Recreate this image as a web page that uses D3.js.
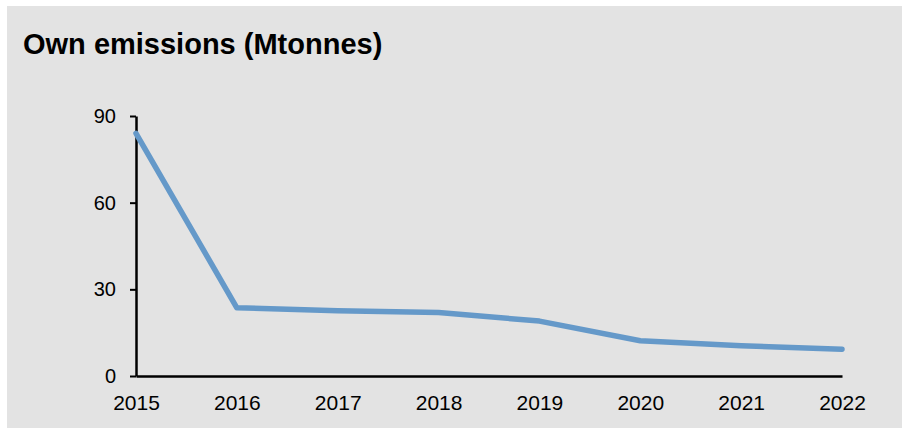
<!DOCTYPE html>
<html>
  <head>
    <meta charset="utf-8">
    <script src="https://d3js.org/d3.v7.min.js"></script>
    <style>
      body { margin: 0; background: #fff; }
      text { font-family: Arial, "Liberation Sans", sans-serif; fill: #000; }
    </style>
  </head>
  <body>
    <script>
      // chart data
      var years = ["2015", "2016", "2017", "2018", "2019", "2020", "2021", "2022"];
      var emissions = [84.0, 23.6, 22.6, 22.0, 19.0, 12.2, 10.5, 9.3];
      var yTicks = [0, 30, 60, 90];
      var title = "Own emissions (Mtonnes)";

      var width = 902, height = 434;

      var svg = d3.select("body").append("svg")
          .attr("width", width)
          .attr("height", height);

      // grey panel
      svg.append("rect")
          .attr("x", 7).attr("y", 6)
          .attr("width", 895).attr("height", 422)
          .attr("fill", "#e3e3e3");

      svg.append("text")
          .attr("x", 23).attr("y", 54)
          .style("font-size", "29px")
          .style("font-weight", "bold")
          .text(title);

      var x = d3.scalePoint().domain(years).range([136, 842]);
      var y = d3.scaleLinear().domain([0, 90]).range([376, 116]);

      // y axis
      var yAxis = svg.append("g")
          .attr("transform", "translate(136,0)")
          .call(d3.axisLeft(y).tickValues(yTicks).tickSize(6).tickPadding(14).tickSizeOuter(0));
      yAxis.select(".domain").attr("stroke", "#000").attr("stroke-width", 2.5);
      yAxis.selectAll(".tick line").attr("stroke", "#000").attr("stroke-width", 2);
      yAxis.selectAll(".tick text")
          .style("font-size", "20px")
          .style("font-family", "Arial, 'Liberation Sans', sans-serif")
          .attr("fill", "#000");

      // x axis
      var xAxis = svg.append("g")
          .attr("transform", "translate(0,376)")
          .call(d3.axisBottom(x).tickSize(0).tickPadding(19));
      xAxis.select(".domain").attr("stroke", "#000").attr("stroke-width", 2.5);
      xAxis.selectAll(".tick text")
          .style("font-size", "21px")
          .style("font-family", "Arial, 'Liberation Sans', sans-serif")
          .attr("fill", "#000");

      var line = d3.line()
          .x(function (d, i) { return x(years[i]); })
          .y(function (d) { return y(d); });

      svg.append("path")
          .datum(emissions)
          .attr("d", line)
          .attr("fill", "none")
          .attr("stroke", "#6599c9")
          .attr("stroke-width", 5.5)
          .attr("stroke-linejoin", "round")
          .attr("stroke-linecap", "round");
    </script>
  </body>
</html>
